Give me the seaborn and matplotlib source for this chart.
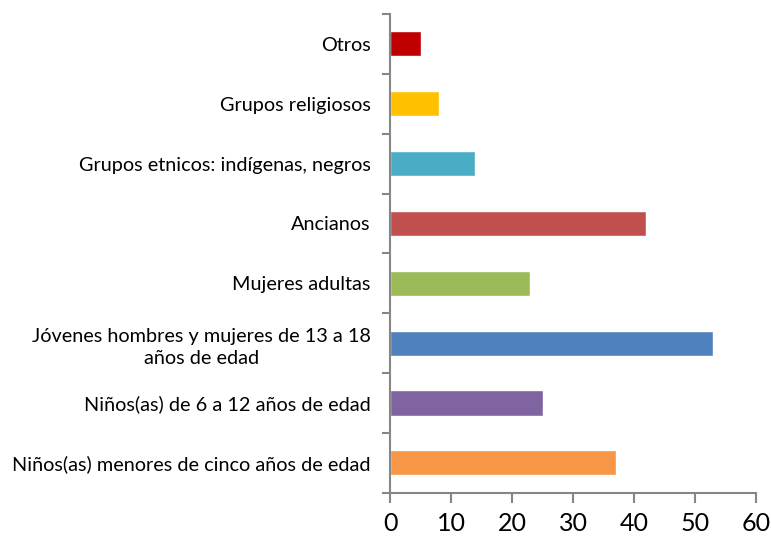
import matplotlib
matplotlib.use("Agg")
import matplotlib.pyplot as plt
import seaborn as sns
import numpy as np
import pandas as pd

# Data (top to bottom)
categorias = [
    "Otros",
    "Grupos religiosos",
    "Grupos etnicos: indígenas, negros",
    "Ancianos",
    "Mujeres adultas",
    "Jóvenes hombres y mujeres de 13 a 18\naños de edad",
    "Niños(as) de 6 a 12 años de edad",
    "Niños(as) menores de cinco años de edad",
]
valores = [5, 8, 14, 42, 23, 53, 25, 37]
colores = ["#C00000", "#FFC000", "#4BACC6", "#C0504D",
           "#9BBB59", "#4F81BD", "#8064A2", "#F79646"]

df = pd.DataFrame({"categoria": categorias, "valor": valores})

sns.set_style("white")
plt.rcParams["font.family"] = ["Lato", "DejaVu Sans"]

fig = plt.figure(figsize=(7.71, 5.38), dpi=100)
ax = fig.add_axes([0.506, 0.084, 0.4745, 0.89])

sns.barplot(data=df, x="valor", y="categoria", hue="categoria",
            palette=colores, orient="h", width=0.42, saturation=1,
            legend=False, ax=ax)

ax.set_xlim(0, 60)
ax.set_ylim(len(categorias) - 0.5, -0.5)
ax.set_xticks(range(0, 61, 10))
ax.set_xlabel("")
ax.set_ylabel("")

# spines
spine_color = "#868686"
for side in ["top", "right"]:
    ax.spines[side].set_visible(False)
for side in ["left", "bottom"]:
    ax.spines[side].set_color(spine_color)
    ax.spines[side].set_linewidth(1.5)

# y ticks: labels at centers, marks at boundaries
ax.set_yticks(np.arange(len(categorias)))
ax.set_yticklabels(categorias, fontsize=14.3, color="black")
for lab in ax.get_yticklabels():
    lab.set_multialignment("center")
    lab.set_linespacing(1.35)
ax.tick_params(axis="y", which="major", length=0, pad=14)
ax.set_yticks(np.arange(-0.5, len(categorias), 1), minor=True)
ax.tick_params(axis="y", which="minor", length=6, width=1.5,
               color=spine_color, left=True)

ax.tick_params(axis="x", which="major", length=7, width=1.5,
               color=spine_color, labelsize=18, pad=7, bottom=True,
               labelcolor="black")

fig.savefig("out.png", dpi=100)
